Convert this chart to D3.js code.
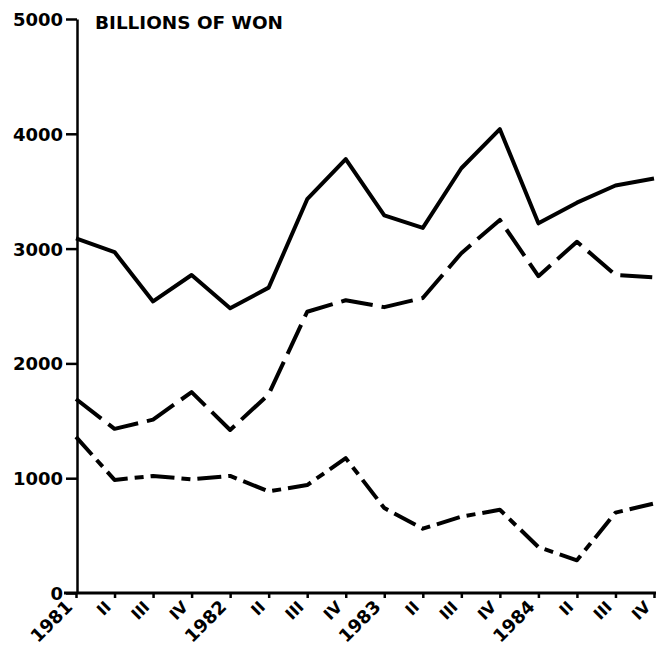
<!DOCTYPE html>
<html lang="en">
<head>
<meta charset="utf-8">
<title>Billions of Won, 1981-1984</title>
<script src="https://cdn.jsdelivr.net/npm/d3@7/dist/d3.min.js"></script>
<style>
  body { margin: 0; background: #fff; }
  svg { display: block; }
  .lbl { font-family: "DejaVu Sans", sans-serif; font-weight: bold; fill: #000; }
</style>
</head>
<body>
<div id="chart"></div>
<script>
// quarters 1981 I .. 1984 IV
var quarters = ["1981","II","III","IV","1982","II","III","IV","1983","II","III","IV","1984","II","III","IV"];

// values (billions of won)
var upper  = [3090, 2970, 2540, 2770, 2480, 2660, 3430, 3780, 3290, 3180, 3700, 4040, 3220, 3400, 3550, 3610];
var middle = [1690, 1430, 1510, 1750, 1420, 1730, 2450, 2550, 2490, 2570, 2960, 3250, 2760, 3060, 2770, 2750];
var lower  = [1360,  985, 1020,  990, 1020,  885,  940, 1175,  740,  560,  665,  725,  400,  285,  700,  780];

var yTicks = [0, 1000, 2000, 3000, 4000, 5000];

var width = 658, height = 648;

var svg = d3.select("#chart").append("svg")
    .attr("width", width)
    .attr("height", height);

var x = d3.scalePoint()
    .domain(d3.range(quarters.length))
    .range([76, 654]);

var y = d3.scaleLinear()
    .domain([0, 5000])
    .range([593, 19]);

// y axis
var yAxis = svg.append("g")
    .attr("transform", "translate(77,0)")
    .call(d3.axisLeft(y).tickValues(yTicks).tickFormat(d3.format("d"))
      .tickSize(11).tickSizeOuter(0).tickPadding(3));
yAxis.select(".domain").attr("stroke", "#000").attr("stroke-width", 2.5);
yAxis.selectAll(".tick line").attr("stroke", "#000").attr("stroke-width", 2.5);
yAxis.selectAll(".tick text")
    .attr("class", "lbl")
    .style("font-size", "18px")
    .attr("dy", "0.36em");

// x axis
var xAxis = svg.append("g")
    .attr("transform", "translate(0,593)")
    .call(d3.axisBottom(x).tickFormat(function(i){ return quarters[i]; }).tickSize(5).tickSizeOuter(0));
xAxis.select(".domain").attr("stroke", "#000").attr("stroke-width", 3)
    .attr("d", "M64,0H656");
xAxis.selectAll(".tick line").attr("stroke", "#000").attr("stroke-width", 2.5);
xAxis.selectAll(".tick text")
    .attr("class", "lbl")
    .style("font-size", function(i){ return quarters[i].length == 4 ? "18px" : "16px"; })
    .attr("text-anchor", "end")
    .attr("dy", null)
    .attr("y", 0)
    .attr("transform", "translate(-3,15) rotate(-45)");

// title
svg.append("text")
    .attr("class", "lbl")
    .attr("x", 95)
    .attr("y", 29)
    .style("font-size", "18px")
    .attr("textLength", 188)
    .attr("lengthAdjust", "spacingAndGlyphs")
    .text("BILLIONS OF WON");

var line = d3.line()
    .x(function(d, i){ return x(i); })
    .y(function(d){ return y(d); });

var series = [
  {vals: upper,  dash: null},
  {vals: middle, dash: "32,9"},
  {vals: lower,  dash: "24,7,9,7"}
];

svg.selectAll("path.series")
  .data(series)
  .enter().append("path")
    .attr("class", "series")
    .attr("d", function(d){ return line(d.vals); })
    .attr("fill", "none")
    .attr("stroke", "#000")
    .attr("stroke-width", 4)
    .attr("stroke-linejoin", "round")
    .attr("stroke-dasharray", function(d){ return d.dash; });
</script>
</body>
</html>
